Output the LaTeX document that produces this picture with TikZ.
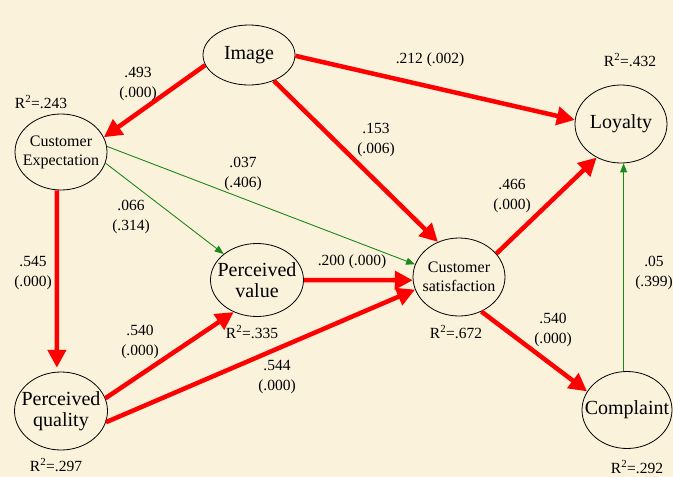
\documentclass[tikz,border=0pt]{standalone}
\usepackage{fontspec}
\setmainfont{Liberation Serif}
\usetikzlibrary{arrows.meta,shapes.geometric}
\definecolor{bgc}{HTML}{FBF2DC}
\definecolor{redc}{HTML}{FF0000}
\definecolor{grnc}{HTML}{1A8A1A}
\begin{document}
\begin{tikzpicture}[x=1pt,y=-1pt,
  lat/.style={ellipse,draw=black,line width=0.8pt,inner xsep=-12pt,inner ysep=-12pt,align=center,font=\fontsize{20}{21}\selectfont},
  latsmall/.style={lat,font=\fontsize{16}{19}\selectfont},
  lbl/.style={font=\fontsize{15.5}{19.5}\selectfont,align=center,inner sep=0pt},
  redarrow/.style={draw=redc,line width=4.5pt,-{Triangle[length=18pt,width=18pt]}},
  grnarrow/.style={draw=grnc,line width=0.9pt,-{Triangle[length=9pt,width=7pt]}}]
\fill[bgc] (0,0) rectangle (673,477);
\useasboundingbox (0,0) rectangle (673,477);

\node[lat,minimum width=92pt,minimum height=60pt] (img) at (249,55) {Image};
\node[latsmall,minimum width=92pt,minimum height=76pt] (ce) at (61,152) {Customer\\Expectation};
\node[lat,minimum width=92pt,minimum height=78pt] (loy) at (621,124) {Loyalty};
\node[lat,minimum width=93pt,minimum height=73pt] (pv) at (257,280) {Perceived\\value};
\node[lat,minimum width=93pt,minimum height=78pt] (pq) at (61,411) {Perceived\\quality};
\node[latsmall,minimum width=92pt,minimum height=78pt] (cs) at (459,277) {Customer\\satisfaction};
\node[lat,minimum width=90pt,minimum height=77pt] (comp) at (627,410) {Complaint};

% connectors
\draw[grnarrow] (ce.7) -- (cs.164);
\draw[grnarrow] (ce.-14) -- (pv.142);
\draw[grnarrow] (comp.95) -- (comp.95 |- loy.south);
\draw[redarrow] (img.193) -- (ce.19);
\draw[redarrow] (img.-1) -- (loy.175);
\draw[redarrow] (img.-46) -- (cs.121);
\draw[redarrow,shorten >=4pt] (ce.-96) -- (pq.96);
\draw[redarrow] (pq.16) -- (pv.234);
\draw[redarrow] (pq.-14) -- (cs.196);
\draw[redarrow] (pv.0) -- (cs.184);
\draw[redarrow] (cs.32) -- (loy.234);
\draw[redarrow] (cs.-57) -- (comp.155);

% labels
\node[lbl] (r1) at (41,102) {R\textsuperscript{2}=.243};
\node[lbl] (l1) at (138,84) {.493\\(.000)};
\node[lbl] (l2) at (243,174) {.037\\(.406)};
\node[lbl] (l3) at (131,217) {.066\\(.314)};
\node[lbl] (l4) at (430,60) {.212 (.002)};
\node[lbl] (r2) at (630,60) {R\textsuperscript{2}=.432};
\node[lbl] (l5) at (376,140) {.153\\(.006)};
\node[lbl] (l6) at (512,196) {.466\\(.000)};
\node[lbl] (l7) at (33,273) {.545\\(.000)};
\node[lbl] (r3) at (252,332) {R\textsuperscript{2}=.335};
\node[lbl] (l8) at (140,342) {.540\\(.000)};
\node[lbl] (l9) at (277,377) {.544\\(.000)};
\node[lbl] (r4) at (56,465) {R\textsuperscript{2}=.297};
\node[lbl] (l10) at (352,262) {.200 (.000)};
\node[lbl] (r5) at (456,332) {R\textsuperscript{2}=.672};
\node[lbl] (l11) at (553,330) {.540\\(.000)};
\node[lbl] (l12) at (654,273) {.05\\(.399)};
\node[lbl] (r6) at (637,467) {R\textsuperscript{2}=.292};
\end{tikzpicture}
\end{document}
